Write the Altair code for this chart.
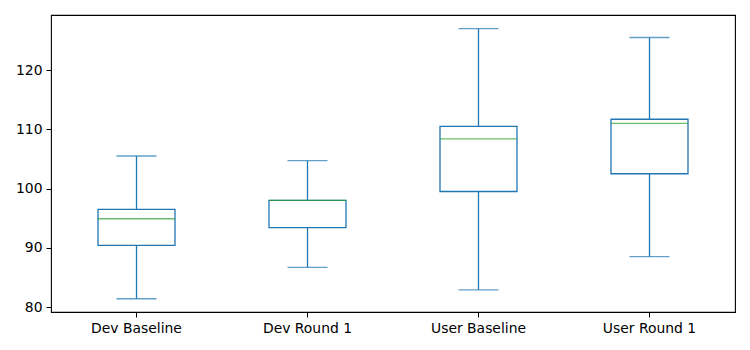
import altair as alt
import pandas as pd

categories = ["Dev Baseline", "Dev Round 1", "User Baseline", "User Round 1"]
whisker_low = [81.4, 86.7, 82.9, 88.5]
q1 = [90.4, 93.4, 99.5, 102.5]
median = [94.9, 98.0, 108.4, 111.0]
q3 = [96.5, 98.0, 110.5, 111.7]
whisker_high = [105.5, 104.7, 127.0, 125.5]

df = pd.DataFrame({
    "cat": categories,
    "lo": whisker_low,
    "q1": q1,
    "med": median,
    "q3": q3,
    "hi": whisker_high,
})

BLUE = "#1f77b4"
GREEN = "#2ca02c"
FONT = "DejaVu Sans"

x = alt.X("cat:N", sort=categories, title=None,
          scale=alt.Scale(paddingInner=0, paddingOuter=0),
          axis=alt.Axis(labelAngle=0, labelFont=FONT, labelFontSize=13.9, labelColor="black",
                        tickColor="black", tickSize=5, domain=False, labelPadding=4))
yscale = alt.Scale(domain=[79.16, 129.3], nice=False, zero=False)
yaxis = alt.Axis(values=[80, 90, 100, 110, 120], labelFont=FONT, labelFontSize=13.9,
                 labelColor="black", tickColor="black", tickSize=5, domain=False,
                 grid=False, labelPadding=4)

base = alt.Chart(df)

whiskers = base.mark_rule(color=BLUE, strokeWidth=1.3).encode(
    x=x,
    y=alt.Y("lo:Q", scale=yscale, axis=yaxis, title=None),
    y2="hi:Q",
)
box = base.mark_bar(size=77, fill="white", stroke=BLUE, strokeWidth=1.3).encode(
    x=x,
    y=alt.Y("q1:Q", scale=yscale),
    y2="q3:Q",
)
med = base.mark_tick(color=GREEN, size=77, thickness=1.3).encode(
    x=x, y=alt.Y("med:Q", scale=yscale)
)
cap_lo = base.mark_tick(color=BLUE, size=40, thickness=1.3).encode(
    x=x, y=alt.Y("lo:Q", scale=yscale)
)
cap_hi = base.mark_tick(color=BLUE, size=40, thickness=1.3).encode(
    x=x, y=alt.Y("hi:Q", scale=yscale)
)

chart = alt.layer(whiskers, box, med, cap_lo, cap_hi).properties(
    width=684, height=297,
    autosize=alt.AutoSizeParams(type="none"),
    padding={"left": 43, "top": 7, "right": 7, "bottom": 31},
).configure(background="white").configure_view(stroke="black", strokeWidth=1.1)

chart.save("out.html", embed_options={"renderer": "svg", "actions": False})
